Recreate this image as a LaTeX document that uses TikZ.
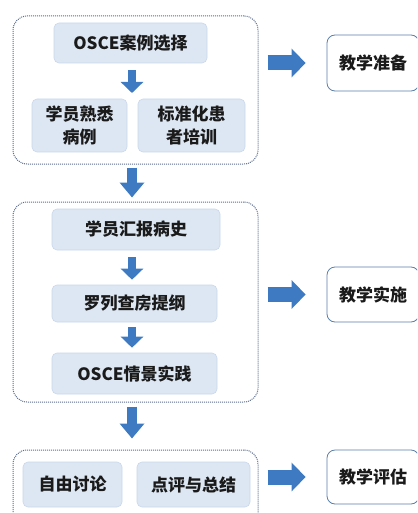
\documentclass[tikz,border=0pt]{standalone}
\usepackage{fontspec}
\setmainfont{Noto Sans CJK SC}[BoldFont={Noto Sans CJK SC Black}]
\usetikzlibrary{arrows.meta}
\definecolor{boxfill}{HTML}{DDE7F3}
\definecolor{boxline}{HTML}{C9D7EA}
\definecolor{arrblue}{HTML}{3E7AC2}
\definecolor{grpline}{HTML}{5A6C8E}
\definecolor{rline}{HTML}{5A7EA8}
\definecolor{txt}{HTML}{1A1A1A}
\tikzset{
  cbox/.style={draw=boxline, line width=0.6pt, fill=boxfill, rounded corners=5pt,
    align=center, inner sep=0pt, text=txt, font=\fontsize{17}{23}\selectfont\bfseries},
  group/.style={draw=grpline, line width=1pt, dash pattern=on 1pt off 1pt, rounded corners=14pt, inner sep=0pt},
  rbox/.style={draw=rline, line width=0.8pt, fill=white, rounded corners=8pt, inner sep=0pt,
    text=txt, font=\fontsize{17}{23}\selectfont\bfseries},
  smallarrow/.style={draw=arrblue, line width=8pt, -{Triangle[width=22pt,length=11pt]}},
  bigarrow/.style={draw=arrblue, line width=10pt, -{Triangle[width=24pt,length=15pt]}},
  rarrow/.style={draw=arrblue, line width=15pt, -{Triangle[width=28pt,length=14pt]}}
}
\begin{document}
\begin{tikzpicture}[x=1pt,y=-1pt]
\useasboundingbox (0,0) rectangle (417,513);
\clip (0,0) rectangle (417,513);
% groups
\node[group, minimum width=245pt, minimum height=148pt] (g1) at (135.5,90) {};
\node[group, minimum width=245pt, minimum height=200pt] (g2) at (135.5,302) {};
\node[group, minimum width=245pt, minimum height=90pt] (g3) at (135.5,495) {};
% inner boxes
\node[cbox, minimum width=153pt, minimum height=40pt] (osce) at (130.5,43) {OSCE案例选择};
\node[cbox, minimum width=95pt, minimum height=53pt] (fam) at (79.5,125.5) {学员熟悉\\病例};
\node[cbox, minimum width=107pt, minimum height=53pt] (sp) at (191.5,125.5) {标准化患\\者培训};
\node[cbox, minimum width=168pt, minimum height=41pt] (rep) at (136,229.5) {学员汇报病史};
\node[cbox, minimum width=165pt, minimum height=37pt] (list) at (134.5,303.5) {罗列查房提纲};
\node[cbox, minimum width=165pt, minimum height=41pt] (prac) at (134.5,373.5) {OSCE情景实践};
\node[cbox, minimum width=99pt, minimum height=45pt] (disc) at (72.5,484.5) {自由讨论};
\node[cbox, minimum width=113pt, minimum height=45pt] (rev) at (193.5,484.5) {点评与总结};
% right boxes
\node[rbox, minimum width=92pt, minimum height=56pt] (r1) at (373,63) {教学准备};
\node[rbox, minimum width=92pt, minimum height=55pt] (r2) at (373,294.5) {教学实施};
\node[rbox, minimum width=92pt, minimum height=54pt] (r3) at (373,477) {教学评估};
% arrow axis
\coordinate (ax) at (132,0);
\coordinate (c1) at (132,99);
% vertical arrows
\draw[smallarrow, shorten <=7pt, shorten >=6pt] (osce.south -| ax) -- (c1);
\draw[bigarrow, shorten <=3pt, shorten >=4pt] (g1.south -| ax) -- (g2.north -| ax);
\draw[smallarrow, shorten <=7pt, shorten >=5pt] (rep.south -| ax) -- (list.north -| ax);
\draw[smallarrow, shorten <=5pt, shorten >=5pt] (list.south -| ax) -- (prac.north -| ax);
\draw[bigarrow, shorten <=4pt, shorten >=11pt] (g2.south -| ax) -- (g3.north -| ax);
% right arrows
\draw[rarrow, shorten <=9pt, shorten >=21pt] (g1.east |- r1) -- (r1.west);
\draw[rarrow, shorten <=9pt, shorten >=21pt] (g2.east |- r2) -- (r2.west);
\draw[rarrow, shorten <=9pt, shorten >=21pt] (g3.east |- r3) -- (r3.west);
\end{tikzpicture}
\end{document}
